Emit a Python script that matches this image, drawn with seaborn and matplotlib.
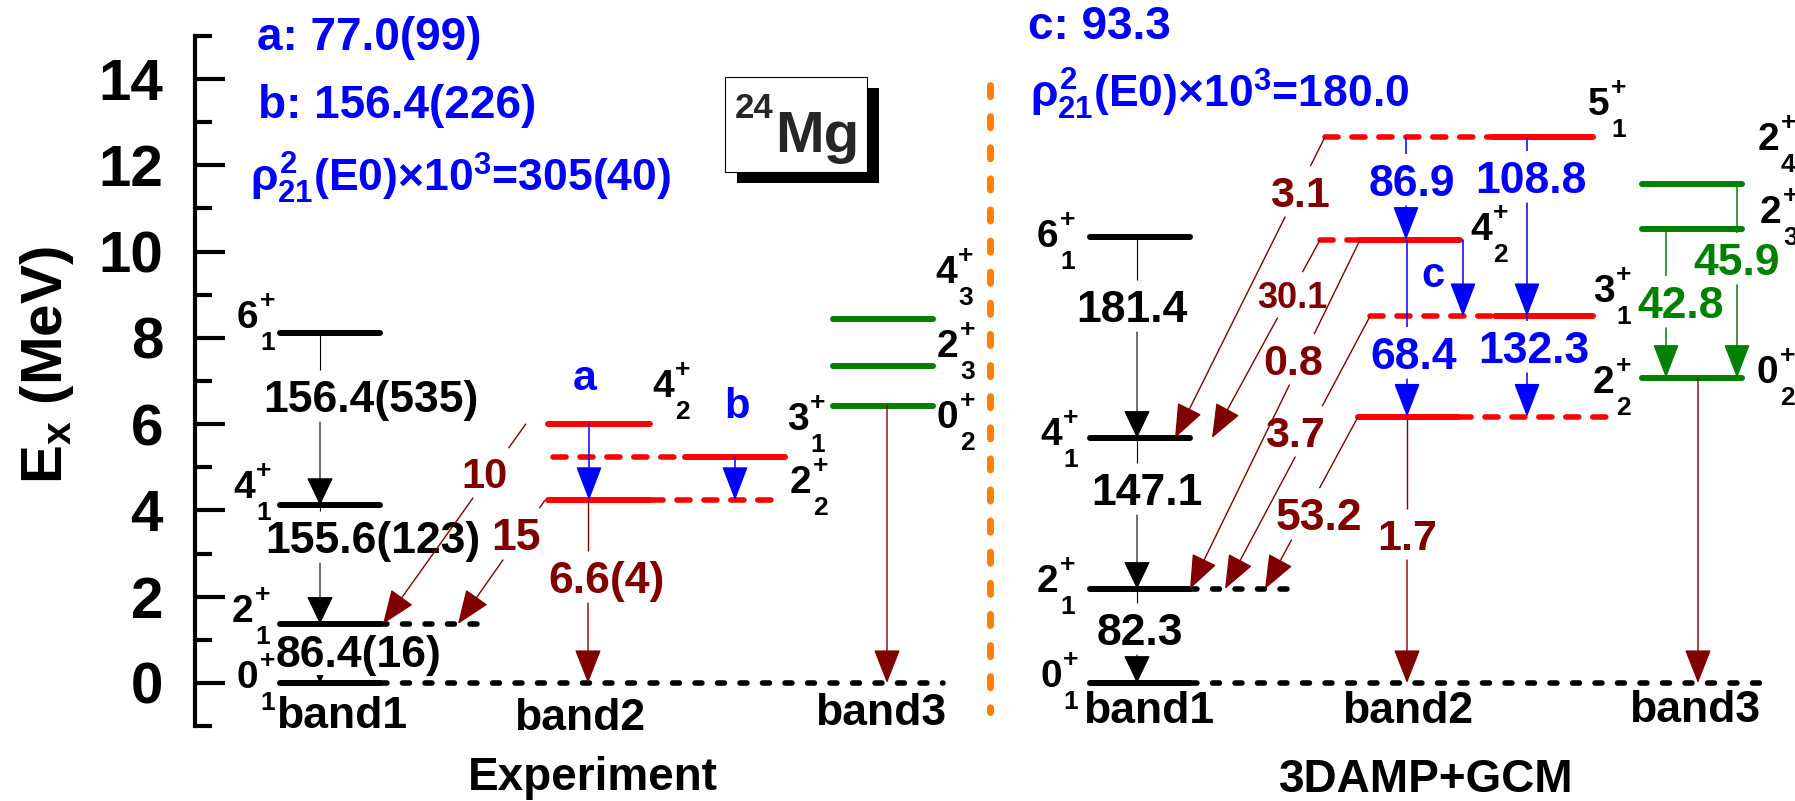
import matplotlib
matplotlib.use("Agg")
import matplotlib.pyplot as plt
from matplotlib.patches import Rectangle
from matplotlib.ticker import FixedLocator
import numpy as np
import pandas as pd
import seaborn as sns

# ---------------- level energies (MeV) ----------------
# Experiment
exp_band1 = [0.0, 1.369, 4.123, 8.114]      # 0+1, 2+1, 4+1, 6+1
exp_band2 = [4.238, 5.235, 6.010]           # 2+2, 3+1, 4+2
exp_band3 = [6.432, 7.349, 8.439]           # 0+2, 2+3, 4+3
# 3DAMP+GCM
gcm_band1 = [0.0, 2.18, 5.68, 10.34]        # 0+1, 2+1, 4+1, 6+1
gcm_band2 = [6.17, 8.50, 10.27, 12.66]      # 2+2, 3+1, 4+2, 5+1
gcm_band3 = [7.07, 10.52, 11.57]            # 0+2, 2+3, 2+4

# ---------------- transition strengths ----------------
exp_b1_be2 = ["156.4(535)", "155.6(123)", "86.4(16)"]
exp_inter_be2 = ["10", "15"]
exp_b2_to_gs = "6.6(4)"
gcm_b1_be2 = ["181.4", "147.1", "82.3"]
gcm_b2_be2 = ["86.9", "108.8", "68.4", "132.3"]
gcm_inter_be2 = ["3.1", "30.1", "0.8", "3.7", "53.2"]
gcm_b2_to_gs = "1.7"
gcm_b3_be2 = ["42.8", "45.9"]

exp_notes = ["a: 77.0(99)", "b: 156.4(226)"]
gcm_notes = ["c: 93.3"]
exp_rho = "305(40)"
gcm_rho = "180.0"

major_ticks = [0, 2, 4, 6, 8, 10, 12, 14]
minor_ticks = [-1, 1, 3, 5, 7, 9, 11, 13, 15]

# ---------------- style ----------------
BLACK, RED, GREEN, BLUE, BROWN, ORANGE = "black", "#ff0000", "#008000", "#0000ff", "#800000", "#ff8000"

sns.set_theme(style="white")
plt.rcParams.update({
    "font.family": ["Liberation Sans", "DejaVu Sans"],
    "font.weight": "bold",
    "mathtext.fontset": "custom",
    "mathtext.rm": "Liberation Sans:bold",
    "mathtext.it": "Liberation Sans:bold",
    "mathtext.bf": "Liberation Sans:bold",
    "mathtext.sf": "Liberation Sans:bold",
    "lines.scale_dashes": False,
})

W, H, DPI = 1795, 801, 100
PPM = 43.14     # pixels per MeV on the energy axis
ZERO = 683      # pixel row of Ex = 0


def E(row):
    """pixel row -> energy coordinate"""
    return (ZERO - row) / PPM


fig = plt.figure(figsize=(W / DPI, H / DPI), dpi=DPI)
ax = fig.add_axes([0, 0, 1, 1])

# ---------------- solid level bars (seaborn) ----------------
solid = [
    *[(280, 380, e, "b1") for e in exp_band1],
    (548, 650, exp_band2[0], "b2"), (685, 785, exp_band2[1], "b2"), (548, 650, exp_band2[2], "b2"),
    *[(833, 933, e, "b3") for e in exp_band3],
    *[(1090, 1190, e, "b1") for e in gcm_band1],
    (1358, 1458, gcm_band2[0], "b2"), (1495, 1593, gcm_band2[1], "b2"),
    (1360, 1460, gcm_band2[2], "b2"), (1493, 1593, gcm_band2[3], "b2"),
    *[(1642, 1742, e, "b3") for e in gcm_band3],
]
rows = []
for i, (x0, x1, e, b) in enumerate(solid):
    rows += [dict(seg=i, x=x0, Ex=e, band=b), dict(seg=i, x=x1, Ex=e, band=b)]
levels_df = pd.DataFrame(rows)
sns.lineplot(data=levels_df, x="x", y="Ex", units="seg", estimator=None, sort=False,
             hue="band", palette={"b1": BLACK, "b2": RED, "b3": GREEN},
             linewidth=4.3, legend=False, ax=ax, solid_capstyle="round", zorder=4)

# ---------------- dashed level continuations ----------------
dashed = [
    (380, 943, exp_band1[0], BLACK), (380, 490, exp_band1[1], BLACK),
    (1190, 1765, gcm_band1[0], BLACK), (1190, 1295, gcm_band1[1], BLACK),
    (650, 775, exp_band2[0], RED), (553, 685, exp_band2[1], RED),
    (1458, 1610, gcm_band2[0], RED), (1370, 1495, gcm_band2[1], RED),
    (1320, 1360, gcm_band2[2], RED), (1325, 1493, gcm_band2[3], RED),
]
for x0, x1, e, c in dashed:
    pat = (0, (5, 11.2)) if c == BLACK else (0, (9.4, 10))
    ax.plot([x0, x1], [e, e], color=c, lw=4.0, linestyle=pat,
            dash_capstyle="round", zorder=4)

ax.set_xlim(0, W)
ax.set_ylim(E(H), E(0))
ax.set_xlabel("")
ax.set_ylabel("")

renderer = fig.canvas.get_renderer()


def clip_segment(p0, p1, box):
    """Liang-Barsky: parameter range of p0->p1 inside box (x0, x1, y0, y1)"""
    dx, dy = p1[0] - p0[0], p1[1] - p0[1]
    t0, t1 = 0.0, 1.0
    for p, q in ((-dx, p0[0] - box[0]), (dx, box[1] - p0[0]),
                 (-dy, p0[1] - box[2]), (dy, box[3] - p0[1])):
        if p == 0:
            if q < 0:
                return None
        else:
            t = q / p
            if p < 0:
                t0 = max(t0, t)
            else:
                t1 = min(t1, t)
    if t0 > t1:
        return None
    return t0, t1


def arrow(xa, ea, xb, eb, color, lw, hl, hw, z):
    pa = ax.transData.transform((xa, ea))
    pb = ax.transData.transform((xb, eb))
    length_pt = np.hypot(*(pb - pa)) * 72 / DPI
    if length_pt < hl:          # short stub: shrink the head so only its tip shows
        hw *= length_pt / hl
        hl = length_pt
    ax.annotate("", xy=(xb, eb), xytext=(xa, ea), zorder=z,
                arrowprops=dict(arrowstyle=f"-|>,head_length={hl:.2f},head_width={hw:.2f}",
                                color=color, lw=lw, shrinkA=0, shrinkB=0,
                                mutation_scale=1))


HEADS = {BLACK: (18, 8.6, 0.8), BROWN: (21.6, 8.5, 1.0),
         BLUE: (21.6, 8.3, 1.1), GREEN: (21.6, 8.3, 1.1)}


def transition(xa, ea, xb, eb, color, label=None, lx=None, lrow=None, fs=32, z=5, pad=10):
    hl, hw, lw = HEADS[color]
    t_in = None
    if label is not None:
        txt = ax.text(lx, E(lrow), label, color=color, fontsize=fs, ha="center",
                      va="baseline", zorder=6)
        bb = txt.get_window_extent(renderer)
        yb = ax.transData.transform((0, E(lrow)))[1]
        cap = 0.716 * fs * DPI / 72
        box = (bb.x0 - pad, bb.x1 + pad, yb - pad, yb + cap + pad)
        pa = ax.transData.transform((xa, ea))
        pb = ax.transData.transform((xb, eb))
        t_in = clip_segment(pa, pb, box)
    if t_in is None:
        arrow(xa, ea, xb, eb, color, lw, hl, hw, z)
        return
    t0, t1 = t_in
    xm0, em0 = xa + t0 * (xb - xa), ea + t0 * (eb - ea)
    xm1, em1 = xa + t1 * (xb - xa), ea + t1 * (eb - ea)
    if t0 > 0:
        ax.plot([xa, xm0], [ea, em0], color=color, lw=lw, solid_capstyle="butt", zorder=z)
    arrow(xm1, em1, xb, eb, color, lw, hl, hw, z)


# ---------------- Experiment transitions ----------------
transition(320, exp_band1[3], 320, exp_band1[2], BLACK, exp_b1_be2[0], 371, 412)
transition(320, exp_band1[2], 320, exp_band1[1], BLACK, exp_b1_be2[1], 373, 553)
transition(320, exp_band1[1], 320, exp_band1[0], BLACK, exp_b1_be2[2], 359, 667)
transition(589, exp_band2[2], 589, exp_band2[0], BLUE)
transition(735, exp_band2[1], 735, exp_band2[0], BLUE)
transition(588, exp_band2[0], 588, exp_band1[0], BROWN, exp_b2_to_gs, 607, 593)
transition(887, exp_band3[0], 887, exp_band1[0], BROWN)
transition(526, exp_band2[2], 383, exp_band1[1], BROWN, exp_inter_be2[0], 485, 488, fs=30, z=7)
transition(545, exp_band2[0], 458, exp_band1[1], BROWN, exp_inter_be2[1], 516, 550, fs=32, z=7)
ax.text(585, E(390), "a", color=BLUE, fontsize=31, ha="center", va="baseline", zorder=6)
ax.text(737, E(418), "b", color=BLUE, fontsize=30, ha="center", va="baseline", zorder=6)

# ---------------- 3DAMP+GCM transitions ----------------
transition(1137, gcm_band1[3], 1137, gcm_band1[2], BLACK, gcm_b1_be2[0], 1132, 322)
transition(1137, gcm_band1[2], 1137, gcm_band1[1], BLACK, gcm_b1_be2[1], 1147, 505)
transition(1137, gcm_band1[1], 1137, gcm_band1[0], BLACK, gcm_b1_be2[2], 1140, 645)
transition(1406, gcm_band2[3], 1406, gcm_band2[2], BLUE, gcm_b2_be2[0], 1412, 196)
transition(1527, gcm_band2[3], 1527, gcm_band2[1], BLUE, gcm_b2_be2[1], 1531, 193)
transition(1407, gcm_band2[2], 1407, gcm_band2[0], BLUE, gcm_b2_be2[2], 1414, 369)
transition(1527, gcm_band2[1], 1527, gcm_band2[0], BLUE, gcm_b2_be2[3], 1534, 363)
transition(1463, gcm_band2[2], 1463, gcm_band2[1], BLUE)
ax.text(1433, E(287), "c", color=BLUE, fontsize=30, ha="center", va="baseline", zorder=6)
transition(1407, gcm_band2[0], 1407, gcm_band1[0], BROWN, gcm_b2_to_gs, 1407, 550, fs=31)
transition(1698, gcm_band3[0], 1698, gcm_band1[0], BROWN)
transition(1666, gcm_band3[1], 1666, gcm_band3[0], GREEN, gcm_b3_be2[0], 1681, 318)
transition(1737, gcm_band3[2], 1737, gcm_band3[0], GREEN, gcm_b3_be2[1], 1737, 275)
transition(1325, gcm_band2[3], 1175, gcm_band1[2], BROWN, gcm_inter_be2[0], 1300, 207, fs=31, z=7)
transition(1320, gcm_band2[2], 1212, gcm_band1[2], BROWN, gcm_inter_be2[1], 1292, 308, fs=26, z=7)
transition(1360, gcm_band2[2], 1190, gcm_band1[1], BROWN, gcm_inter_be2[2], 1293, 375, fs=31, z=7)
transition(1370, gcm_band2[1], 1225, gcm_band1[1], BROWN, gcm_inter_be2[3], 1295, 447, fs=31, z=7)
transition(1358, gcm_band2[0], 1265, gcm_band1[1], BROWN, gcm_inter_be2[4], 1319, 530, fs=32, z=7)

# ---------------- level labels: spin, parity (sup) and index (sub) ----------------
level_labels = [
    ("6", "1", 237, 328), ("4", "1", 233, 498), ("2", "1", 232, 622), ("0", "1", 237, 688),
    ("4", "2", 652, 397), ("3", "1", 787, 430), ("2", "2", 790, 493),
    ("4", "3", 935, 283), ("2", "3", 937, 357), ("0", "2", 937, 428),
    ("6", "1", 1037, 247), ("4", "1", 1040, 445), ("2", "1", 1037, 592), ("0", "1", 1040, 687),
    ("5", "1", 1588, 115), ("4", "2", 1470, 240), ("3", "1", 1593, 302), ("2", "2", 1593, 393),
    ("2", "4", 1758, 150), ("2", "3", 1760, 223), ("0", "2", 1757, 383),
]
for spin, idx, x, row in level_labels:
    ax.text(x, E(row), spin, fontsize=28, color=BLACK, ha="left", va="baseline", zorder=6)
    ax.text(x + 23, E(row - 20), "+", fontsize=19, color=BLACK, ha="left", va="baseline", zorder=6)
    ax.text(x + 23, E(row + 22), idx, fontsize=19, color=BLACK, ha="left", va="baseline", zorder=6)

# ---------------- band / panel titles ----------------
for s, x, row in [("band1", 342, 728), ("band2", 580, 730), ("band3", 881, 725),
                  ("band1", 1149, 723), ("band2", 1408, 723), ("band3", 1695, 722)]:
    ax.text(x, E(row), s, fontsize=32, ha="center", va="baseline", color=BLACK, zorder=6)
ax.text(593, E(790), "Experiment", fontsize=33, ha="center", va="baseline", color=BLACK)
ax.text(1426, E(792), "3DAMP+GCM", fontsize=33, ha="center", va="baseline", color=BLACK)

# ---------------- E0 annotations ----------------
rho = r"$\rho^{2}_{21}$(E0)$\times$10$^{3}$="
ax.text(257, E(50), exp_notes[0], color=BLUE, fontsize=33, ha="left", va="baseline")
ax.text(258, E(118), exp_notes[1], color=BLUE, fontsize=33, ha="left", va="baseline")
ax.text(250, E(192), rho + exp_rho, color=BLUE, fontsize=32, ha="left", va="baseline")
ax.text(1028, E(39), gcm_notes[0], color=BLUE, fontsize=33, ha="left", va="baseline")
ax.text(1030, E(108), rho + gcm_rho, color=BLUE, fontsize=32, ha="left", va="baseline")

# ---------------- nucleus tag with drop shadow ----------------
ax.add_patch(Rectangle((737, E(183)), 142, 95 / PPM, fc="black", ec="none", zorder=8))
ax.add_patch(Rectangle((725, E(172)), 142, 95 / PPM, fc="white", ec="black", lw=0.8, zorder=9))
ax.text(735, E(118), "24", fontsize=25, ha="left", va="baseline", zorder=10)
ax.text(775, E(152), "Mg", fontsize=42, ha="left", va="baseline", zorder=10)

# ---------------- separator ----------------
ax.plot([990, 990], [E(85), E(712)], color=ORANGE, lw=5, linestyle=(0, (8, 14.4)),
        dash_capstyle="round", zorder=3)

# ---------------- energy axis ----------------
for side in ("top", "right", "bottom"):
    ax.spines[side].set_visible(False)
ax.spines["left"].set_position(("data", 195))
ax.spines["left"].set_bounds(-1, 15)
ax.spines["left"].set_color(BLACK)
ax.spines["left"].set_linewidth(3.0)
ax.xaxis.set_visible(False)
ax.yaxis.set_major_locator(FixedLocator(major_ticks))
ax.yaxis.set_minor_locator(FixedLocator(minor_ticks))
ax.tick_params(axis="y", which="major", left=True, direction="in", length=21.6,
               width=3.0, labelsize=42, pad=23, colors=BLACK)
ax.tick_params(axis="y", which="minor", left=True, direction="in", length=12,
               width=3.0, colors=BLACK)
for lab in ax.get_yticklabels():
    lab.set_fontweight("bold")
ax.set_facecolor("white")
ax.text(62, E(365), r"$\mathrm{E_x}$ (MeV)", rotation=90, rotation_mode="anchor",
        ha="center", va="baseline", fontsize=42, color=BLACK)

fig.savefig("out.png", dpi=DPI, facecolor="white")
